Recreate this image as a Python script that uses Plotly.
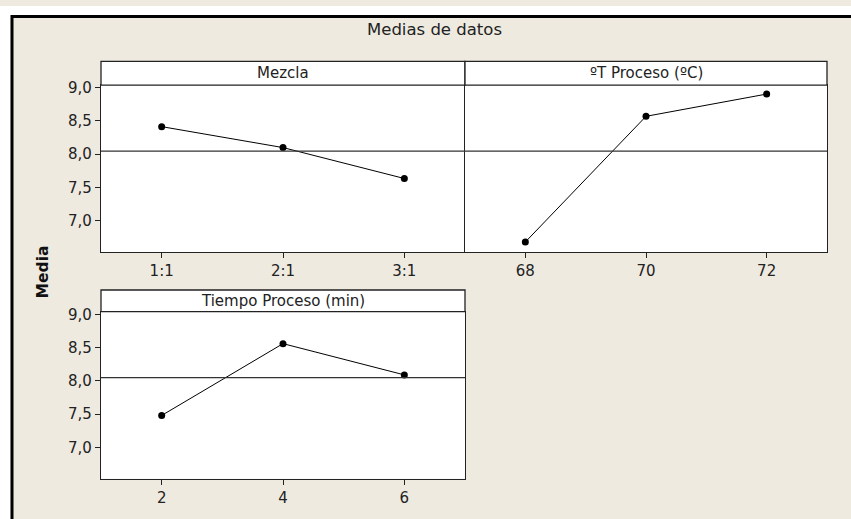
import numpy as np
import plotly.graph_objects as go

# ---- data ----
title_text = "Medias de datos"
y_label = "Media"

mezcla_levels = ["1:1", "2:1", "3:1"]
mezcla_means = [8.415, 8.10, 7.635]

temp_levels = [68, 70, 72]
temp_means = [6.68, 8.57, 8.905]

tiempo_levels = [2, 4, 6]
tiempo_means = [7.48, 8.56, 8.09]

panel_titles = ["Mezcla", "ºT Proceso (ºC)", "Tiempo Proceso (min)"]
y_ticks = [7.0, 7.5, 8.0, 8.5, 9.0]

grand_mean = float(np.mean(mezcla_means + temp_means + tiempo_means))

# ---- layout geometry (pixels) ----
W, H = 851, 519
BG = "#EEEAE0"
FONT = "DejaVu Sans"

def px(x):
    return x / W

def py(y):
    return 1 - y / H

fig = go.Figure()

marker = dict(color="black", size=7)
line = dict(color="black", width=1)

fig.add_trace(go.Scatter(x=mezcla_levels, y=mezcla_means, mode="lines+markers",
                         marker=marker, line=line, xaxis="x", yaxis="y", showlegend=False))
fig.add_trace(go.Scatter(x=temp_levels, y=temp_means, mode="lines+markers",
                         marker=marker, line=line, xaxis="x2", yaxis="y2", showlegend=False))
fig.add_trace(go.Scatter(x=tiempo_levels, y=tiempo_means, mode="lines+markers",
                         marker=marker, line=line, xaxis="x3", yaxis="y3", showlegend=False))

yrange = [6.528, 9.04]
tickfont = dict(family=FONT, size=15, color="#222222")

common_axis = dict(showgrid=False, zeroline=False, showline=True, mirror=True,
                   linecolor="#222222", linewidth=1.3, ticks="outside", ticklen=5,
                   tickcolor="#222222", tickwidth=1, tickfont=tickfont)

def ax(**over):
    d = dict(common_axis)
    d.update(over)
    return d

top_dom = [py(249), py(80)]
bot_dom = [py(478.3), py(309.3)]
left_dom = [px(101), px(465)]
right_dom = [px(465), px(827)]

fig.update_layout(
    xaxis=ax(domain=left_dom, anchor="y", type="category", range=[-0.5, 2.5]),
    yaxis=ax(domain=top_dom, anchor="x", range=yrange, tickvals=y_ticks, tickformat=".1f", mirror=False),
    xaxis2=ax(domain=right_dom, anchor="y2", range=[67, 73], tickvals=temp_levels),
    yaxis2=ax(domain=top_dom, anchor="x2", range=yrange, showticklabels=False, ticks=""),
    xaxis3=ax(domain=left_dom, anchor="y3", range=[1, 7], tickvals=tiempo_levels),
    yaxis3=ax(domain=bot_dom, anchor="x3", range=yrange, tickvals=y_ticks, tickformat=".1f"),
)

shapes = []
annotations = []

# reference (grand mean) lines
for xr, yr in [("x domain", "y"), ("x2 domain", "y2"), ("x3 domain", "y3")]:
    shapes.append(dict(type="line", xref=xr, yref=yr, x0=0, x1=1, y0=grand_mean, y1=grand_mean,
                       line=dict(color="#333333", width=1.2)))

# strip headers
headers = [((101, 56, 465, 80), panel_titles[0]),
           ((465, 56, 827, 80), panel_titles[1]),
           ((101, 287.3, 465, 309.3), panel_titles[2])]
for (x0, y0, x1, y1), txt in headers:
    shapes.append(dict(type="rect", xref="paper", yref="paper", x0=px(x0), x1=px(x1),
                       y0=py(y1), y1=py(y0), fillcolor="white",
                       line=dict(color="#222222", width=1.3)))
    annotations.append(dict(text=txt, xref="paper", yref="paper", x=px((x0 + x1) / 2),
                            y=py((y0 + y1) / 2), showarrow=False, xanchor="center", yanchor="middle",
                            font=dict(family=FONT, size=15, color="#222222")))

# outer frame: white margins and black border
shapes.append(dict(type="rect", xref="paper", yref="paper", x0=0, x1=1, y0=py(9), y1=1,
                   fillcolor="white", line=dict(width=0)))
shapes.append(dict(type="rect", xref="paper", yref="paper", x0=0, x1=px(10.5), y0=0, y1=1,
                   fillcolor="white", line=dict(width=0)))
shapes.append(dict(type="line", xref="paper", yref="paper", x0=px(12), x1=1, y0=py(10.5), y1=py(10.5),
                   line=dict(color="black", width=3)))
shapes.append(dict(type="line", xref="paper", yref="paper", x0=px(12), x1=px(12), y0=0, y1=py(9),
                   line=dict(color="black", width=3)))

# title and y label
annotations.append(dict(text=title_text, xref="paper", yref="paper", x=px(435), y=py(24),
                        showarrow=False, xanchor="center", yanchor="middle",
                        font=dict(family=FONT, size=16.5, color="#222222")))
annotations.append(dict(text="<b>" + y_label + "</b>", xref="paper", yref="paper", x=px(42.5), y=py(269),
                        showarrow=False, xanchor="center", yanchor="middle", textangle=-90,
                        font=dict(family=FONT, size=15.5, color="#111111")))

fig.update_layout(
    width=W, height=H, margin=dict(l=0, r=0, t=0, b=0),
    paper_bgcolor=BG, plot_bgcolor="white",
    separators=",.", shapes=shapes, annotations=annotations,
    font=dict(family=FONT),
)

fig.write_html("out.html", config={"displayModeBar": False},
               post_script="document.body.style.margin='0';document.body.style.overflow='hidden';")
